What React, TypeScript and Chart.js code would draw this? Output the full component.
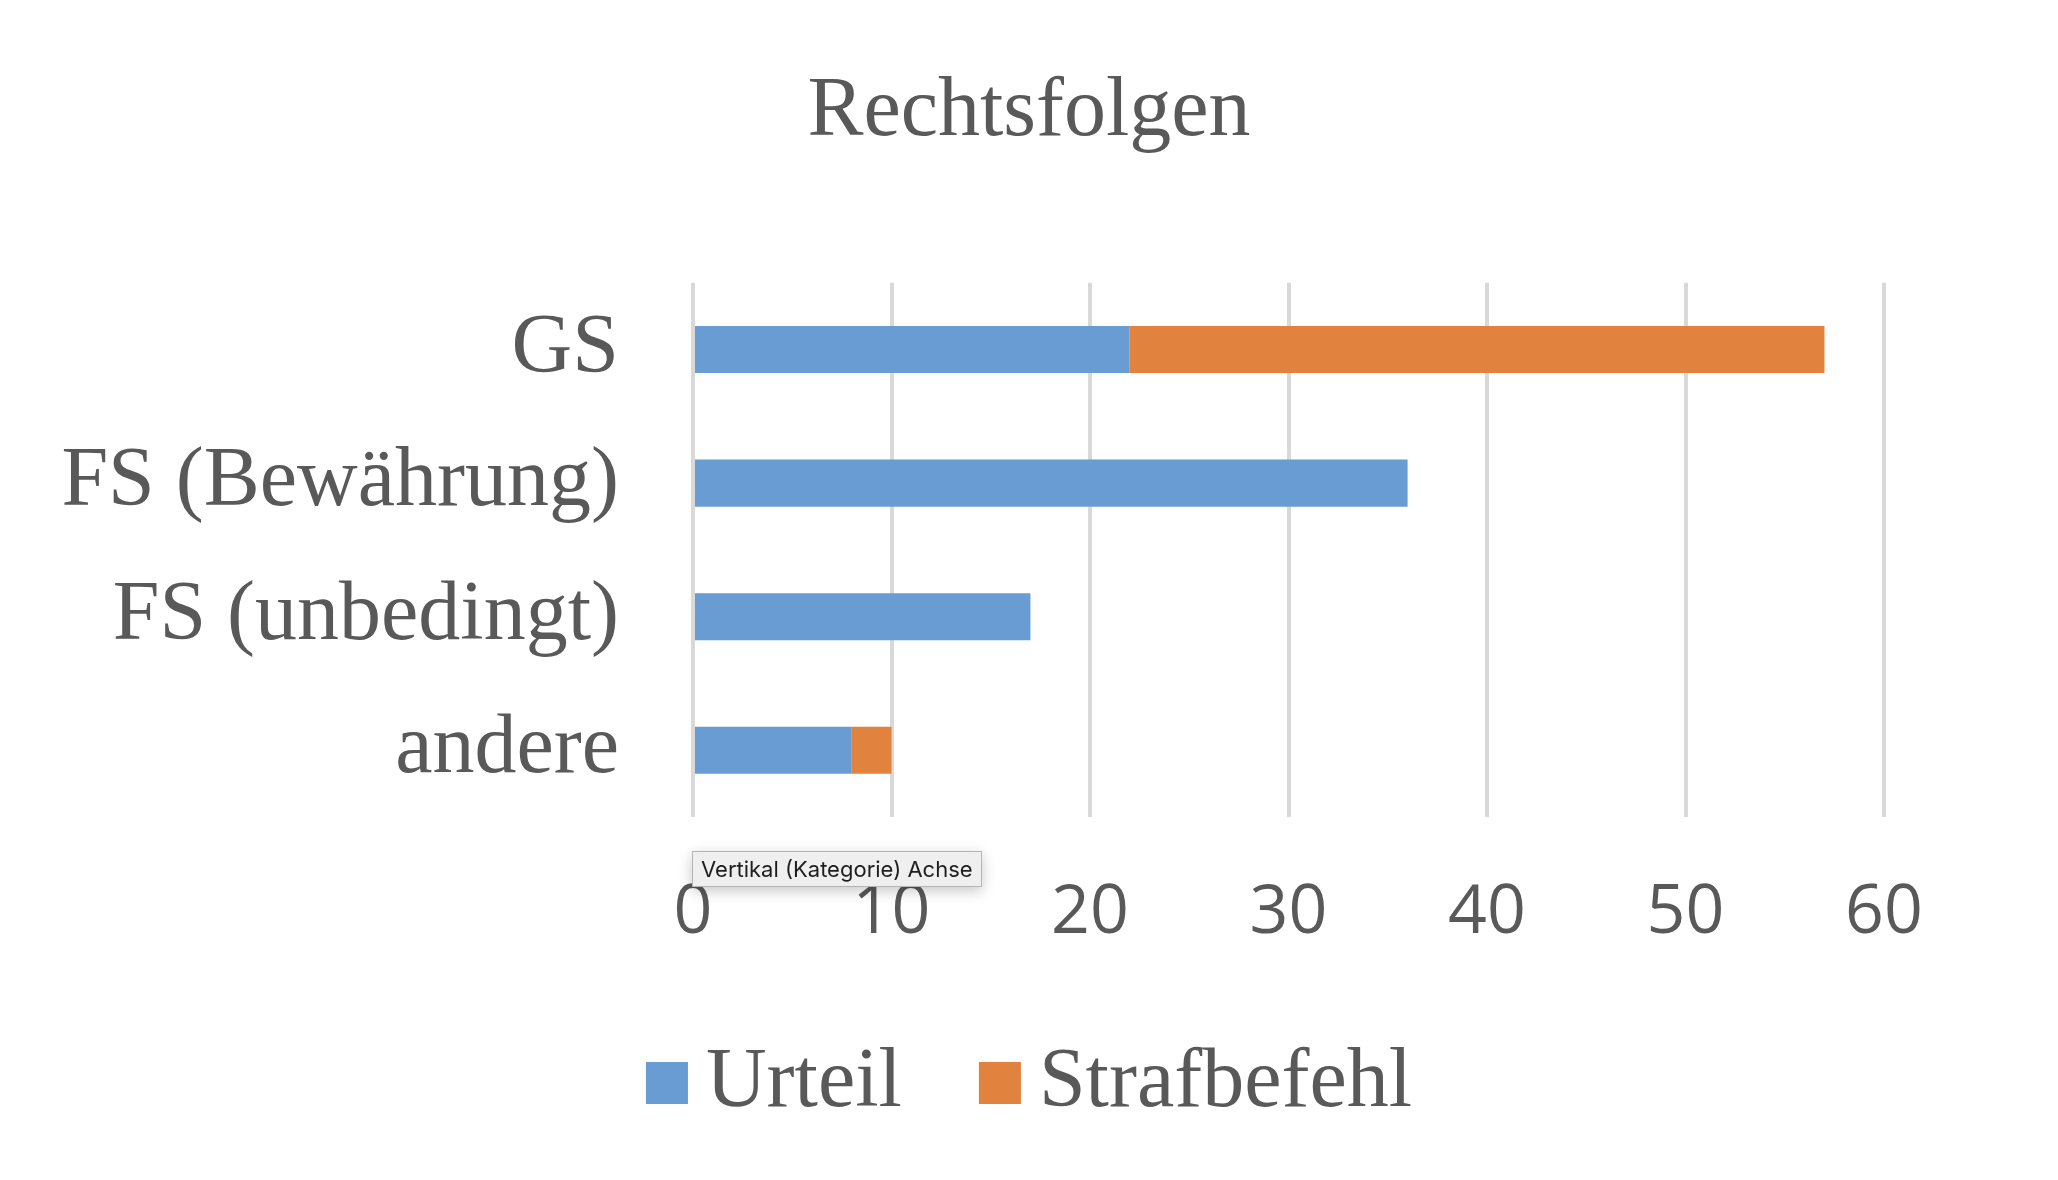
import React, { useEffect, useRef } from "react";
import { Chart, registerables } from "chart.js";

Chart.register(...registerables);

const chartTitle = "Rechtsfolgen";
const categories = ["GS", "FS (Bewährung)", "FS (unbedingt)", "andere"];
const seriesNames = ["Urteil", "Strafbefehl"];
const urteilValues = [22, 36, 17, 8];
const strafbefehlValues = [35, 0, 0, 2];
const xTickValues = [0, 10, 20, 30, 40, 50, 60];
const seriesColors = ["#689CD3", "#E1823F"];
const hoverTipText = "Vertikal (Kategorie) Achse";

const SERIF = '"Liberation Serif", "Times New Roman", "DejaVu Serif", serif';
const TEXT = "#595959";

const legendPlugin = {
  id: "excelLegend",
  afterDraw(chart: any) {
    const ctx = chart.ctx;
    const datasets = chart.data.datasets;
    const box = 42;
    const gap = 18;
    const itemGap = 77;
    ctx.save();
    ctx.font = `84px ${SERIF}`;
    const widths = datasets.map((d: any) => ctx.measureText(d.label).width);
    let total = 0;
    widths.forEach((w: number, i: number) => {
      total += box + gap + w + (i < widths.length - 1 ? itemGap : 0);
    });
    let x = (chart.width - total) / 2;
    const baseline = chart.height - 74;
    const boxTop = chart.height - 118;
    datasets.forEach((d: any, i: number) => {
      ctx.fillStyle = d.backgroundColor;
      ctx.fillRect(x, boxTop, box, box);
      x += box + gap;
      ctx.fillStyle = TEXT;
      ctx.textBaseline = "alphabetic";
      ctx.textAlign = "left";
      ctx.fillText(d.label, x, baseline);
      x += widths[i] + itemGap;
    });
    ctx.restore();
  },
};

export default function App() {
  const canvasRef = useRef<HTMLCanvasElement | null>(null);

  useEffect(() => {
    if (!canvasRef.current) return;
    const chart = new Chart(canvasRef.current, {
      type: "bar",
      data: {
        labels: categories,
        datasets: [
          {
            label: seriesNames[0],
            data: urteilValues,
            backgroundColor: seriesColors[0],
            borderWidth: 0,
            categoryPercentage: 1,
            barPercentage: 0.352,
          },
          {
            label: seriesNames[1],
            data: strafbefehlValues,
            backgroundColor: seriesColors[1],
            borderWidth: 0,
            categoryPercentage: 1,
            barPercentage: 0.352,
          },
        ],
      },
      options: {
        indexAxis: "y",
        responsive: false,
        animation: false,
        devicePixelRatio: 1,
        layout: { padding: 0 },
        plugins: {
          legend: { display: false },
          tooltip: { enabled: false },
          title: {
            display: true,
            text: chartTitle,
            color: TEXT,
            font: { family: SERIF, size: 84, weight: "normal" },
            padding: { top: 63, bottom: 119 },
          },
        },
        scales: {
          x: {
            stacked: true,
            min: xTickValues[0],
            max: xTickValues[xTickValues.length - 1],
            ticks: {
              stepSize: xTickValues[1] - xTickValues[0],
              color: TEXT,
              font: { family: '"Open Sans", "DejaVu Sans", sans-serif', size: 68 },
              padding: 56,
              maxRotation: 0,
            },
            grid: { color: "#D9D9D9", lineWidth: 4, drawTicks: false },
            border: { display: false },
            afterFit: (scale: any) => {
              scale.height = 363;
            },
          },
          y: {
            stacked: true,
            ticks: {
              color: TEXT,
              font: { family: SERIF, size: 84 },
              padding: 74,
            },
            grid: { display: false, drawTicks: false },
            border: { display: false },
            afterFit: (scale: any) => {
              scale.width = 693;
            },
          },
          rightSpace: {
            type: "category",
            position: "right",
            labels: [""],
            ticks: { display: false },
            grid: { display: false, drawTicks: false },
            border: { display: false },
            afterFit: (scale: any) => {
              scale.width = 174;
            },
          },
        },
      },
      plugins: [legendPlugin],
    });
    return () => chart.destroy();
  }, []);

  return (
    <div
      style={{
        position: "absolute",
        left: 0,
        top: 0,
        width: 2058,
        height: 1180,
        background: "#ffffff",
        overflow: "hidden",
      }}
    >
      <canvas ref={canvasRef} width={2058} height={1180} style={{ display: "block" }} />
      <div
        style={{
          position: "absolute",
          left: 692,
          top: 851,
          height: 36,
          padding: "0 8px",
          boxSizing: "border-box",
          background: "#EFEFEF",
          border: "1px solid #B4B4B4",
          boxShadow: "0 4px 14px rgba(0,0,0,0.22)",
          font: '22px Inter, "Liberation Sans", sans-serif',
          color: "#1E1E1E",
          lineHeight: "34px",
          whiteSpace: "nowrap",
        }}
      >
        {hoverTipText}
      </div>
    </div>
  );
}
